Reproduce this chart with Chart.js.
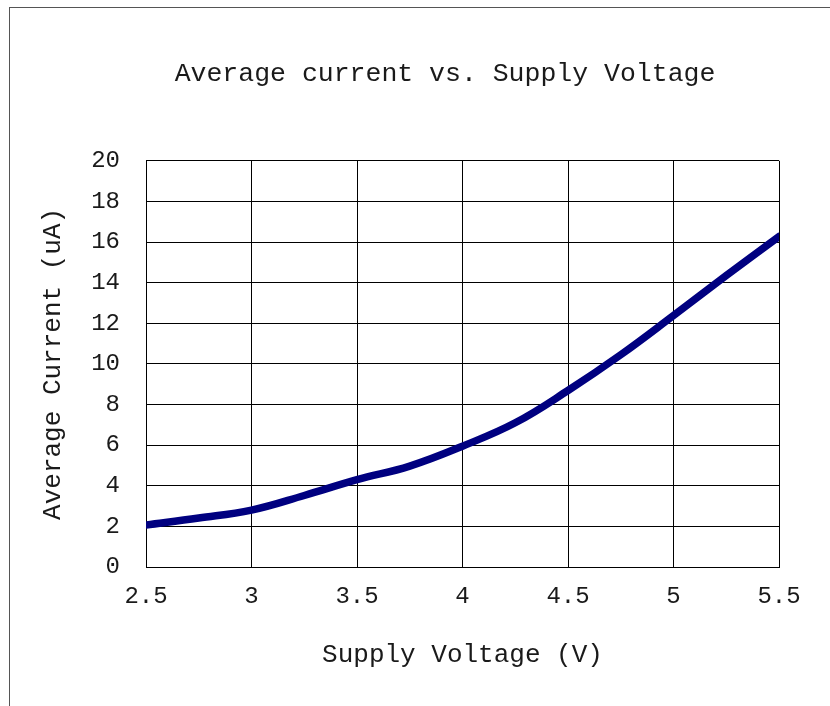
<!DOCTYPE html>
<html>
<head>
<meta charset="utf-8">
<script src="https://cdn.jsdelivr.net/npm/chart.js@4/dist/chart.umd.min.js"></script>
<style>
  html, body { margin: 0; padding: 0; background: #fff; }
  #wrap { position: absolute; left: 0; top: 0; width: 830px; height: 706px; }
  #frame { position: absolute; left: 9px; top: 7px; width: 840px; height: 720px; border-top: 1px solid #555; border-left: 1px solid #555; }
  canvas { position: absolute; left: 0; top: 0; }
</style>
</head>
<body>
<div id="wrap">
  <div id="frame"></div>
  <canvas id="c" width="830" height="706"></canvas>
</div>
<script>
const voltage = [2.5, 2.75, 3.0, 3.25, 3.5, 3.75, 4.0, 4.25, 4.5, 4.75, 5.0, 5.25, 5.5];
const current = [2.07, 2.41, 2.8, 3.52, 4.3, 4.97, 5.95, 7.1, 8.69, 10.45, 12.38, 14.35, 16.27];
const xTickLabels = ['2.5', '3', '3.5', '4', '4.5', '5', '5.5'];
const yTickLabels = ['0', '2', '4', '6', '8', '10', '12', '14', '16', '18', '20'];
const titleText = 'Average current vs. Supply Voltage';
const xTitle = 'Supply Voltage (V)';
const yTitle = 'Average Current (uA)';

const FONT = "'Liberation Mono', 'Courier New', monospace";
const TXT = '#1a1a1a';

new Chart(document.getElementById('c'), {
  type: 'line',
  data: {
    datasets: [{
      data: voltage.map((v, i) => ({ x: v, y: current[i] })),
      borderColor: '#000080',
      borderWidth: 7.5,
      borderCapStyle: 'round',
      borderJoinStyle: 'round',
      pointRadius: 0,
      tension: 0.4,
      fill: false
    }]
  },
  options: {
    responsive: false,
    animation: false,
    layout: { padding: { left: 60, right: 0, top: 0, bottom: 0 } },
    plugins: {
      legend: { display: false },
      tooltip: { enabled: false },
      title: {
        display: true,
        text: titleText,
        color: TXT,
        font: { family: FONT, size: 26.5, weight: 'normal', lineHeight: 1.2 },
        padding: { top: 58, bottom: 71 }
      }
    },
    scales: {
      x: {
        type: 'linear',
        min: 2.5, max: 5.5,
        ticks: { stepSize: 0.5, color: TXT, padding: 15, font: { family: FONT, size: 24 },
                 callback: (v, i) => xTickLabels[i] },
        grid: { color: '#000', lineWidth: 1, drawTicks: false },
        border: { color: '#000', width: 1 },
        title: {
          display: true, text: xTitle, color: TXT,
          font: { family: FONT, size: 26, lineHeight: 1.2 },
          padding: { top: 0, bottom: 35 }
        },
        afterFit: (s) => { s.height = 139; s.paddingRight = 51; }
      },
      y: {
        min: 0, max: 20,
        ticks: { stepSize: 2, color: TXT, padding: 26, font: { family: FONT, size: 24 },
                 callback: (v, i) => yTickLabels[i] },
        grid: { color: '#000', lineWidth: 1, drawTicks: false },
        border: { color: '#000', width: 1 },
        title: {
          display: true, text: yTitle, color: TXT,
          font: { family: FONT, size: 26, lineHeight: 1.2 },
          padding: { top: -22, bottom: 0 }
        },
        afterFit: (s) => { s.width = 86; }
      }
    }
  }
});
</script>
</body>
</html>
